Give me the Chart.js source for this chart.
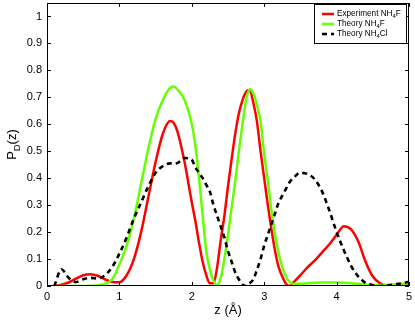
<!DOCTYPE html>
<html lang="en">
<head>
  <meta charset="UTF-8">
  <title>P_D(z)</title>
  <script src="https://cdn.jsdelivr.net/npm/chart.js"></script>
  <style>
    body { margin: 0; background: #fff; }
    #wrap { width: 415px; height: 321px; }
  </style>
</head>
<body>
  <div id="wrap"><canvas id="chart" width="415" height="321"></canvas></div>

  <script>
    // z positions (Å) shared by all three curves
    const zGrid = [0.1, 0.2, 0.3, 0.4, 0.5, 0.6, 0.7, 0.8, 0.9, 1.0, 1.1, 1.2, 1.3, 1.4, 1.5, 1.6, 1.7, 1.75, 1.8, 1.9,
      2.0, 2.05, 2.1, 2.15, 2.2, 2.25, 2.3, 2.35, 2.4, 2.45, 2.5, 2.55, 2.6, 2.65, 2.7, 2.75, 2.8, 2.85, 2.9, 2.95,
      3.0, 3.05, 3.1, 3.15, 3.2, 3.25, 3.3, 3.35, 3.4, 3.5, 3.6, 3.7, 3.8, 3.9, 4.0, 4.1, 4.2, 4.3, 4.4, 4.5,
      4.6, 4.7, 4.8, 4.9, 5.0];

    const expNH4F = [0.0, 0.005, 0.013, 0.027, 0.04, 0.044, 0.038, 0.025, 0.015, 0.014, 0.04, 0.1, 0.2, 0.33, 0.46, 0.565, 0.612, 0.605, 0.575, 0.46,
      0.31, 0.24, 0.16, 0.09, 0.04, 0.01, 0.01, 0.07, 0.17, 0.26, 0.37, 0.47, 0.565, 0.64, 0.69, 0.72, 0.727, 0.68, 0.61, 0.5,
      0.4, 0.3, 0.21, 0.13, 0.07, 0.035, 0.008, 0.0, 0.012, 0.04, 0.07, 0.095, 0.125, 0.155, 0.19, 0.222, 0.21, 0.165, 0.09, 0.035,
      0.01, 0.002, 0.003, 0.004, 0.005];

    const theoryNH4F = [0, 0, 0, 0, 0, 0.001, 0.003, 0.008, 0.025, 0.08, 0.15, 0.25, 0.38, 0.51, 0.62, 0.69, 0.735, 0.74, 0.73, 0.69,
      0.6, 0.52, 0.4, 0.26, 0.13, 0.06, 0.02, 0.003, 0.03, 0.1, 0.19, 0.29, 0.39, 0.5, 0.6, 0.69, 0.73, 0.715, 0.67, 0.61,
      0.49, 0.39, 0.28, 0.19, 0.12, 0.07, 0.035, 0.015, 0.008, 0.008, 0.01, 0.012, 0.013, 0.013, 0.013, 0.012, 0.01, 0.008, 0.005, 0.004,
      0.004, 0.005, 0.006, 0.008, 0.01];

    const theoryNH4Cl = [0.0, 0.062, 0.03, 0.015, 0.025, 0.03, 0.028, 0.04, 0.07, 0.12, 0.18, 0.25, 0.31, 0.37, 0.42, 0.445, 0.455, 0.454, 0.456, 0.475,
      0.468, 0.44, 0.42, 0.4, 0.375, 0.35, 0.3, 0.26, 0.22, 0.18, 0.13, 0.09, 0.05, 0.025, 0.006, 0.0, 0.01, 0.025, 0.06, 0.1,
      0.15, 0.19, 0.23, 0.27, 0.31, 0.335, 0.36, 0.385, 0.4, 0.42, 0.415, 0.395, 0.35, 0.28, 0.2, 0.133, 0.075, 0.035, 0.012, 0.003,
      0.0, 0.002, 0.006, 0.01, 0.016];

    const xTicks = [0, 1, 2, 3, 4, 5];
    const yTicks = [0, 0.1, 0.2, 0.3, 0.4, 0.5, 0.6, 0.7, 0.8, 0.9, 1];

    // legend text, [text, isSubscript]
    const legendLabels = [
      [['Experiment NH', 0], ['4', 1], ['F', 0]],
      [['Theory NH', 0], ['4', 1], ['F', 0]],
      [['Theory NH', 0], ['4', 1], ['Cl', 0]]
    ];

    const FONT = '"Liberation Sans", Arial, sans-serif';

    const toPoints = vals => zGrid.map((z, i) => ({ x: z, y: vals[i] }));

    function drawParts(ctx, parts, x, y, size) {
      for (const [txt, sub] of parts) {
        const s = sub ? size * 0.72 : size;
        ctx.font = s + 'px ' + FONT;
        ctx.fillText(txt, x, sub ? y + size * 0.3 : y);
        x += ctx.measureText(txt).width;
      }
      return x;
    }

    const matlabFrame = {
      id: 'matlabFrame',
      afterDraw(chart) {
        const { ctx, chartArea: a, scales: { x, y } } = chart;
        ctx.save();
        ctx.strokeStyle = '#000';
        ctx.lineWidth = 1;
        ctx.strokeRect(Math.round(a.left) + 0.5, Math.round(a.top) + 0.5,
          Math.round(a.right - a.left) - 1, Math.round(a.bottom - a.top) - 1);

        ctx.beginPath();
        x.ticks.forEach(t => {
          const px = Math.round(x.getPixelForValue(t.value)) + 0.5;
          ctx.moveTo(px, a.bottom); ctx.lineTo(px, a.bottom - 4);
          ctx.moveTo(px, a.top); ctx.lineTo(px, a.top + 4);
        });
        y.ticks.forEach(t => {
          const py = Math.round(y.getPixelForValue(t.value)) + 0.5;
          ctx.moveTo(a.left, py); ctx.lineTo(a.left + 4, py);
          ctx.moveTo(a.right, py); ctx.lineTo(a.right - 4, py);
        });
        ctx.stroke();

        // axis titles
        ctx.fillStyle = '#000';
        ctx.textBaseline = 'alphabetic';
        ctx.font = '13px ' + FONT;
        ctx.textAlign = 'center';
        ctx.fillText('z (Å)', (a.left + a.right) / 2, 314);

        ctx.save();
        ctx.translate(16, (a.top + a.bottom) / 2);
        ctx.rotate(-Math.PI / 2);
        ctx.textAlign = 'left';
        const yParts = [['P', 0], ['D', 1], ['(z)', 0]];
        let w = 0;
        for (const [txt, sub] of yParts) {
          ctx.font = (sub ? 9.4 : 13) + 'px ' + FONT;
          w += ctx.measureText(txt).width;
        }
        drawParts(ctx, yParts, -w / 2, 0, 13);
        ctx.restore();

        // legend box
        const bx = 314, by = 4, bw = 92, bh = 39;
        ctx.fillStyle = '#fff';
        ctx.fillRect(bx, by, bw, bh);
        ctx.strokeRect(bx + 0.5, by + 0.5, bw, bh);
        const order = [2, 1, 0]; // red, green, black in the chart's dataset list
        order.forEach((di, row) => {
          const ds = chart.data.datasets[di];
          const ly = 14 + row * 10;
          ctx.beginPath();
          ctx.strokeStyle = ds.borderColor;
          ctx.lineWidth = 2.5;
          ctx.setLineDash(ds.borderDash || []);
          ctx.moveTo(322, ly);
          ctx.lineTo(334, ly);
          ctx.stroke();
          ctx.setLineDash([]);
          ctx.fillStyle = '#000';
          ctx.textAlign = 'left';
          ctx.textBaseline = 'middle';
          drawParts(ctx, legendLabels[row], 337, ly, 8.2);
        });
        ctx.restore();
      }
    };

    new Chart(document.getElementById('chart'), {
      type: 'line',
      data: {
        datasets: [
          {
            label: 'Theory NH4Cl',
            data: toPoints(theoryNH4Cl),
            borderColor: '#000000',
            borderWidth: 2.6,
            borderDash: [5, 4],
            order: 1
          },
          {
            label: 'Theory NH4F',
            data: toPoints(theoryNH4F),
            borderColor: '#66ff00',
            borderWidth: 2.5,
            order: 2
          },
          {
            label: 'Experiment NH4F',
            data: toPoints(expNH4F),
            borderColor: '#ff0000',
            borderWidth: 2.5,
            order: 3
          }
        ]
      },
      options: {
        responsive: false,
        animation: false,
        layout: { padding: { top: 3, right: 6, left: 0, bottom: 0 } },
        elements: {
          point: { radius: 0 },
          line: { cubicInterpolationMode: 'monotone', fill: false }
        },
        plugins: {
          legend: { display: false },
          tooltip: { enabled: false }
        },
        scales: {
          x: {
            type: 'linear',
            min: 0,
            max: 5,
            afterBuildTicks: s => { s.ticks = xTicks.map(v => ({ value: v })); },
            afterFit: s => { s.height = 35; s.paddingLeft = 0; s.paddingRight = 0; },
            grid: { display: false, drawTicks: false },
            border: { display: false },
            ticks: {
              color: '#000',
              padding: 4,
              maxRotation: 0,
              font: { family: FONT, size: 11 },
              callback: v => String(v)
            }
          },
          y: {
            min: 0,
            max: 1.05,
            afterBuildTicks: s => { s.ticks = yTicks.map(v => ({ value: v })); },
            afterFit: s => { s.width = 47; s.paddingTop = 0; s.paddingBottom = 0; },
            grid: { display: false, drawTicks: false },
            border: { display: false },
            ticks: {
              color: '#000',
              padding: 5,
              font: { family: FONT, size: 11 },
              callback: v => String(+v.toFixed(2))
            }
          }
        }
      },
      plugins: [matlabFrame]
    });
  </script>
</body>
</html>
